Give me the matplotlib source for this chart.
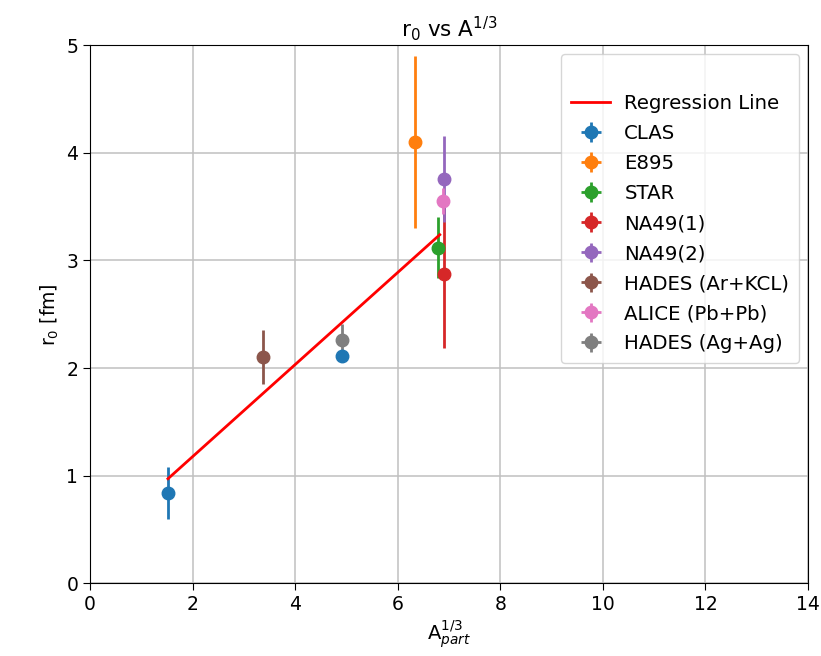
import numpy as np
import matplotlib
matplotlib.use("Agg")
import matplotlib.pyplot as plt
from matplotlib.lines import Line2D

# experiments, A^(1/3) of participants, r0 [fm] and errors
labels = ['CLAS', 'E895', 'STAR', 'NA49(1)', 'NA49(2)',
          'HADES (Ar+KCL)', 'ALICE (Pb+Pb)', 'HADES (Ag+Ag)']
a13 = [[1.52, 4.91], [6.34], [6.78], [6.9], [6.9], [3.37], [6.88], [4.91]]
r0 = [[0.84, 2.11], [4.1], [3.12], [2.87], [3.76], [2.1], [3.55], [2.26]]
r0_err = [[0.24, 0.04], [0.8], [0.28], [0.68], [0.4], [0.25], [0.12], [0.15]]

# regression line
slope = 0.428
intercept = 0.32
reg_x = [1.52, 6.82]

fig = plt.figure(figsize=(8.21, 6.56), dpi=100)
ax = fig.add_axes([0.1096, 0.111, 0.8746, 0.820])

reg_y = [slope * x + intercept for x in reg_x]
reg_line, = ax.plot(reg_x, reg_y, color='red', lw=2, zorder=5)

handles = [Line2D([], [], linestyle='none'), reg_line]
for i, lab in enumerate(labels):
    h = ax.errorbar(a13[i], r0[i], yerr=r0_err[i], xerr=0, fmt='o',
                    color='C%d' % i, markersize=9, elinewidth=2, zorder=4)
    handles.append(h)

ax.set_xlim(0, 14)
ax.set_ylim(0, 5)
ax.set_xticks(np.arange(0, 15, 2))
ax.set_yticks(np.arange(0, 6, 1))
ax.grid(True, color='#c0c0c0', lw=1.1)
ax.tick_params(labelsize=13.5, length=5)

ax.set_xlabel(r'$\mathrm{A}^{1/3}_{part}$', fontsize=14)
ax.set_ylabel(r'r$_0$ [fm]', fontsize=13.5)
ax.set_title(r'r$_0$ vs A$^{1/3}$', fontsize=15.5)

ax.legend(handles, [''] + ['Regression Line'] + labels, loc='upper right',
          fontsize=14.2, borderaxespad=0.45, labelspacing=0.56,
          borderpad=0.5, handletextpad=0.7)

fig.savefig('out.png', dpi=100)
